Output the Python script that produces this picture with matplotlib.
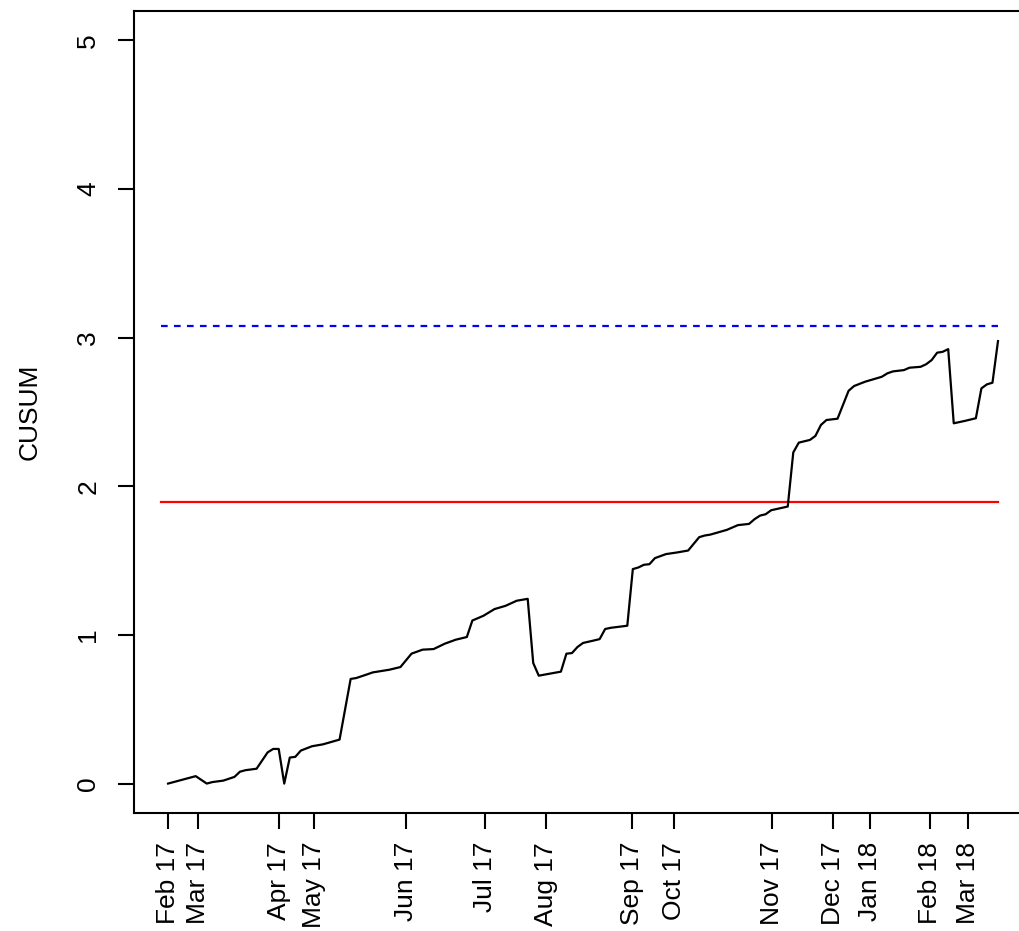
"""CUSUM chart, monthly tick labels placed at first observation of each month."""

import matplotlib
matplotlib.use("Agg")
import matplotlib.pyplot as plt

# observation number and CUSUM value at each vertex of the curve
obs = [0, 3, 5, 7, 8, 10, 12, 13, 14, 16,
       18, 19, 20, 21, 22, 23, 24, 26, 28, 31,
       33, 34, 36, 37, 40, 42, 44, 46, 48, 50,
       52, 54, 55, 57, 59, 61, 63, 65, 66, 67,
       71, 72, 73, 74, 75, 77, 78, 79, 80, 83,
       84, 85, 86, 87, 88, 90, 92, 94, 96, 97,
       98, 101, 103, 105, 106, 107, 108, 109, 112, 113,
       114, 116, 117, 118, 119, 121, 123, 124, 126, 128,
       129, 130, 131, 133, 134, 136, 137, 138, 139, 140,
       141, 142, 144, 146, 147, 148, 149, 150]
cusum = [0.00, 0.03, 0.05, 0.00, 0.01, 0.02, 0.045, 0.08, 0.09, 0.10,
         0.21, 0.233, 0.233, 0.00, 0.175, 0.18, 0.222, 0.251, 0.264, 0.296,
         0.704, 0.71, 0.735, 0.748, 0.766, 0.784, 0.874, 0.901, 0.905, 0.941,
         0.968, 0.986, 1.097, 1.129, 1.174, 1.196, 1.23, 1.243, 0.811, 0.726,
         0.753, 0.874, 0.878, 0.919, 0.946, 0.963, 0.972, 1.04, 1.048, 1.062,
         1.443, 1.454, 1.472, 1.476, 1.517, 1.544, 1.555, 1.568, 1.658, 1.669,
         1.675, 1.707, 1.739, 1.747, 1.779, 1.803, 1.812, 1.839, 1.864, 2.228,
         2.294, 2.312, 2.339, 2.413, 2.446, 2.455, 2.643, 2.675, 2.704, 2.726,
         2.737, 2.76, 2.773, 2.782, 2.798, 2.804, 2.821, 2.849, 2.899, 2.905,
         2.923, 2.424, 2.44, 2.458, 2.659, 2.686, 2.697, 2.977]

# control limits
limit_low = 1.897
limit_high = 3.076
limit_span = [-1.25, 150]

month_pos = [0, 5.5, 20, 26.3, 43, 57.3, 68.3, 83.8, 91.5,
             109.2, 120.2, 126.9, 137.8, 144.5]
month_labels = ["Feb 17", "Mar 17", "Apr 17", "May 17", "Jun 17", "Jul 17",
                "Aug 17", "Sep 17", "Oct 17", "Nov 17", "Dec 17", "Jan 18",
                "Feb 18", "Mar 18"]

plt.rcParams["font.family"] = ["Liberation Sans", "DejaVu Sans"]
plt.rcParams["font.size"] = 19

W, H = 1020, 931
fig = plt.figure(figsize=(W / 100, H / 100), dpi=100)
# right edge of the plot box sits just outside the image, as in the original
ax = fig.add_axes([134.3 / W, 117.7 / H, (1031.2 - 134.3) / W, (813.3 - 10.7) / H])

ax.plot(obs, cusum, color="black", lw=1.6, zorder=3)
ax.plot(limit_span, [limit_low, limit_low], color="red", lw=1.6, zorder=2)
ax.plot(limit_span, [limit_high, limit_high], color="blue", lw=1.6,
        dashes=(3.0, 2.84), zorder=2)

ax.set_xlim(-6.1, 156)
ax.set_ylim(-0.2, 5.2)
ax.set_yticks([0, 1, 2, 3, 4, 5])
ax.set_xticks(month_pos)
ax.set_xticklabels(month_labels, rotation=90)
ax.tick_params(axis="both", direction="out", length=11.5, width=1.5, color="black")
ax.tick_params(axis="y", labelrotation=90, pad=13)
ax.tick_params(axis="x", pad=9)
for lab in ax.get_yticklabels():
    lab.set_va("center")

for sp in ax.spines.values():
    sp.set_linewidth(1.5)
    sp.set_color("black")

fig.text(30 / W, 1 - 412 / H, "CUSUM", rotation=90, ha="center", va="center")

fig.savefig("out.png", dpi=100)
